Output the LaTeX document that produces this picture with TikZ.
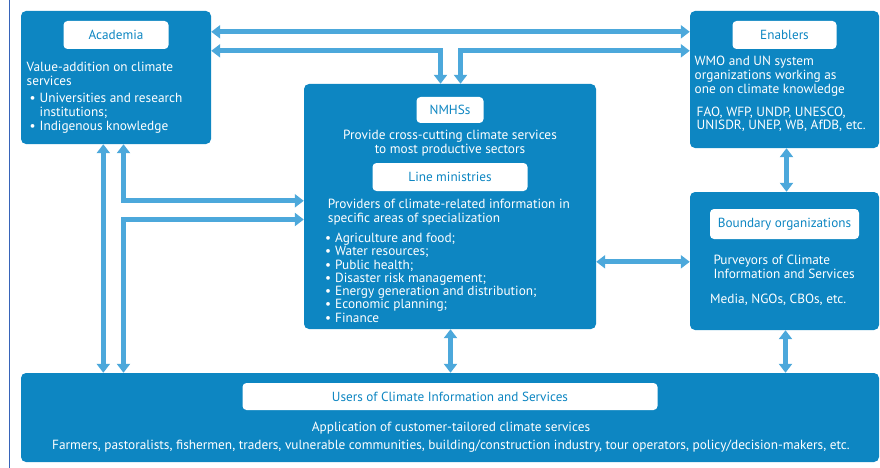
\documentclass[tikz,border=0pt]{standalone}
\usepackage{fontspec}
\setmainfont{PT Sans}
\usetikzlibrary{positioning,arrows.meta,calc}
\definecolor{boxblue}{RGB}{13,134,194}
\definecolor{arrowblue}{RGB}{76,168,219}
\definecolor{rimblue}{RGB}{55,100,185}
\tikzstyle{actor}=[fill=boxblue, rounded corners=5pt, inner sep=0pt]
\tikzstyle{headpill}=[fill=white, rounded corners=4pt, inner sep=0pt,
    text=boxblue, font=\fontsize{13.2}{13.8}\selectfont]
\tikzstyle{body}=[text=white, inner sep=0pt, align=left,
    font=\fontsize{13.3}{13.8}\selectfont]
\tikzstyle{link}=[draw=arrowblue, line width=5pt,
    {Triangle[width=13pt,length=9pt]}-{Triangle[width=13pt,length=9pt]}]
\newcommand{\bul}[1]{\makebox[10pt][l]{\textbullet}#1}
\newcommand{\cont}[1]{\hspace*{10pt}#1}

\begin{document}
\begin{tikzpicture}[x=1pt, y=-1pt]
        \useasboundingbox (0,0) rectangle (880,468);
        \draw[rimblue, line width=0.7pt] (9,0) -- (9,468);

        % boxes
        \node[actor, minimum width=190pt, minimum height=133pt] (acad) at (116,77.5) {};
        \node[actor, minimum width=189pt, minimum height=137pt] (enab) at (784.5,79.5) {};
        \node[actor, minimum width=292pt, minimum height=245pt] (nmhs) at (450,206.5) {};
        \node[actor, minimum width=189pt, minimum height=138pt] (bound) at (784.5,261) {};
        \node[actor, minimum width=858pt, minimum height=89pt] (users) at (450,417.5) {};

        % headings
        \node[headpill, minimum width=105pt, minimum height=28pt, below=10pt of acad.north] (acadhead) {Academia};
        \node[headpill, minimum width=104pt, minimum height=28pt, below=10pt of enab.north] (enabhead) {Enablers};
        \node[headpill, minimum width=67pt, minimum height=26pt, below=13pt of nmhs.north] (nmhshead) {NMHSs};
        \node[headpill, minimum width=155pt, minimum height=28pt, below=79pt of nmhs.north] (linehead) {Line ministries};
        \node[headpill, minimum width=149pt, minimum height=30pt, below=17pt of bound.north] (boundhead) {Boundary organizations};
        \node[headpill, minimum width=415pt, minimum height=27pt, below=10pt of users.north] (usershead) {Users of Climate Information and Services};

        % texts
        \node[body, anchor=north west] (acadtxt) at (26.5,62)
            {Value-addition on climate\\ services\\[3.5pt]
             \hspace*{3pt}\bul{Universities and research}\\
             \hspace*{3pt}\cont{institutions;}\\
             \hspace*{3pt}\bul{Indigenous knowledge}};
        \node[body, anchor=north west] (enabtxt) at (694.5,56.2)
            {WMO and UN system\\ organizations working as\\ one on climate knowledge\\[8.8pt]
             \hspace*{2pt}FAO, WFP, UNDP, UNESCO,\\ \hspace*{2pt}UNISDR, UNEP, WB, AfDB, etc.};
        \node[body, align=center, below=6.7pt of nmhshead] (nmhstxt)
            {Provide cross-cutting climate services\\ to most productive sectors};
        \node[body, anchor=north west] (linetxt) at (327.7,199)
            {Providers of climate-related information in\\ specific areas of specialization};
        \node[body, anchor=north west, font=\fontsize{13.3}{13.25}\selectfont] (linelist) at (325,233)
            {\bul{Agriculture and food;}\\ \bul{Water resources;}\\ \bul{Public health;}\\
             \bul{Disaster risk management;}\\ \bul{Energy generation and distribution;}\\
             \bul{Economic planning;}\\ \bul{Finance}};
        \node[body, anchor=north west] (boundtxt) at (713.3,254.7)
            {Purveyors of Climate\\ Information and Services};
        \node[body, anchor=north west] (boundmedia) at (710,294) {Media, NGOs, CBOs, etc.};
        \node[body, align=center, anchor=north] (userstxt) at (451,421.4)
            {Application of customer-tailored climate services\\[4.5pt]
             Farmers, pastoralists, fishermen, traders, vulnerable communities, building/construction industry, tour operators, policy/decision-makers, etc.};

        % elbow points
        \coordinate (acadL) at ([xshift=82.5pt]acad.south west);
        \coordinate (acadR) at ([xshift=102.7pt]acad.south west);

        % connectors
        \path
            ([yshift=-21pt]acad.north east) edge[link] ([yshift=-21pt]enab.north west)
            (acadL) edge[link] (acadL |- users.north)
            ([xshift=2pt]enab.south) edge[link] ([xshift=2pt]bound.north)
            ([yshift=-178pt]nmhs.north east) edge[link] ([yshift=-178pt]nmhs.north east -| bound.west)
            ([xshift=0.5pt]nmhs.south) edge[link] ([xshift=0.5pt]nmhs.south |- users.north)
            ([xshift=1pt]bound.south) edge[link] ([xshift=1pt]bound.south |- users.north)
        ;
        \draw[link] ([yshift=-40pt]acad.north east) -| ([xshift=-9.5pt]nmhs.north);
        \draw[link] ([yshift=-40pt]enab.north west) -| ([xshift=10.5pt]nmhs.north);
        \draw[link] (acadR) |- ([yshift=-117pt]nmhs.north west);
        \draw[link] ([yshift=-135.7pt]nmhs.north west) -| (acadR |- users.north);
\end{tikzpicture}
\end{document}
